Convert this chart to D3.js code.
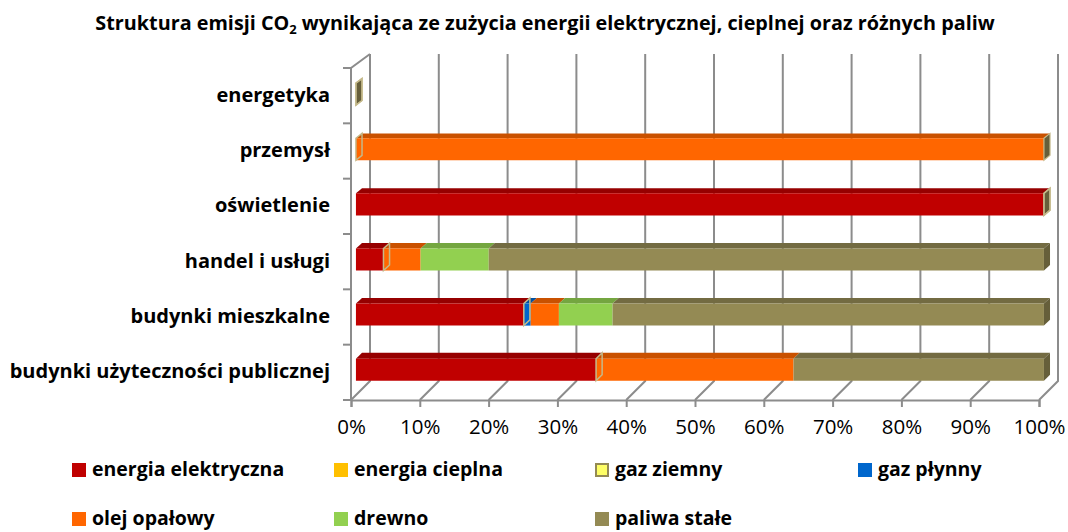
<!DOCTYPE html>
<html>
<head>
<meta charset="utf-8">
<script src="https://cdn.jsdelivr.net/npm/d3@7"></script>
<style>
  body { margin: 0; background: #fff; }
  text { font-family: "Open Sans", "Liberation Sans", sans-serif; fill: #000; }
</style>
</head>
<body>
<script>
// categories, top to bottom
var categories = ["energetyka", "przemysł", "oświetlenie", "handel i usługi",
                  "budynki mieszkalne", "budynki użyteczności publicznej"];

var seriesNames = ["energia elektryczna", "energia cieplna", "gaz ziemny", "gaz płynny",
                   "olej opałowy", "drewno", "paliwa stałe"];

// shares in %, same order as categories
var energiaElektryczna = [0, 0, 100, 4.0, 24.4, 34.9];
var energiaCieplna     = [0, 0, 0, 0, 0, 0];
var gazZiemny          = [0, 0, 0, 0, 0, 0];
var gazPlynny          = [0, 0, 0, 0, 1.0, 0];
var olejOpalowy        = [0, 100, 0, 5.4, 4.1, 28.7];
var drewno             = [0, 0, 0, 9.9, 7.8, 0];
var paliwaStale        = [0, 0, 0, 80.7, 62.7, 36.4];

var tickValues = [0, 10, 20, 30, 40, 50, 60, 70, 80, 90, 100];

var seriesValues = [energiaElektryczna, energiaCieplna, gazZiemny, gazPlynny,
                    olejOpalowy, drewno, paliwaStale];

var colors = {
  front: ["#C00000", "#FFC000", "#FFFF66", "#0066CC", "#FF6600", "#92D050", "#948A54"],
  top:   ["#960000", "#CC9A00", "#CCCC52", "#0050A0", "#C95100", "#74A640", "#736B42"],
  side:  ["#800000", "#A67C00", "#A6A642", "#004080", "#A34200", "#5E8634", "#665F3A"]
};
var outlineColor = "#C4B98A";

var width = 1068, height = 532;

var svg = d3.select("body").append("svg")
  .attr("width", width)
  .attr("height", height);

// front plane of the 3D box
var plot = {left: 351, right: 1039, top: 68, bottom: 400};
var depth = {dx: 19, dyTop: 14, dyBottom: 19};

var x = d3.scaleLinear().domain([0, 100]).range([plot.left, plot.right]);
var y = d3.scaleBand().domain(categories).range([plot.top, plot.bottom]);

// oblique projection: (x, y) on front plane pushed back by d in [0,1]
var project = function(px, py, d)
{
  var dy = depth.dyTop + (depth.dyBottom - depth.dyTop) * (py - plot.top) / (plot.bottom - plot.top);
  return [px + d * depth.dx, py - d * dy];
};

var poly = function(pts)
{
  return pts.map(function(p) { return p[0].toFixed(2) + "," + p[1].toFixed(2); }).join(" ");
};

var gridColor = "#8C8C8C";
var grid = svg.append("g")
  .attr("stroke", gridColor)
  .attr("stroke-width", 2)
  .attr("fill", "none");

// back wall gridlines + floor diagonals
tickValues.forEach(function(t)
{
  var bTop = project(x(t), plot.top, 1);
  var bBot = project(x(t), plot.bottom, 1);
  grid.append("polyline")
    .attr("points", poly([bTop, bBot, [x(t), plot.bottom]]));
});

// left wall
grid.append("polyline")
  .attr("points", poly([[plot.left, plot.bottom], [plot.left, plot.top], project(plot.left, plot.top, 1)]));

// category ticks at band boundaries
categories.concat([null]).forEach(function(c, i)
{
  var yy = plot.top + i * y.step();
  grid.append("line")
    .attr("x1", plot.left - 8).attr("x2", plot.left)
    .attr("y1", yy).attr("y2", yy);
});

// x axis along the front edge of the floor
var xAxis = d3.axisBottom(x)
  .tickValues(tickValues)
  .tickSize(7)
  .tickPadding(12)
  .tickFormat(function(d) { return d + "%"; });

var axisG = svg.append("g")
  .attr("transform", "translate(0," + plot.bottom + ")")
  .call(xAxis);
axisG.select(".domain").attr("stroke", gridColor).attr("stroke-width", 2);
axisG.selectAll(".tick line").attr("stroke", gridColor).attr("stroke-width", 2);
axisG.selectAll(".tick text")
  .style("font-family", "'Open Sans', sans-serif")
  .style("font-size", "20.5px")
  .attr("fill", "#000");

// category labels
svg.append("g").selectAll("text")
  .data(categories)
  .enter().append("text")
  .attr("x", 330)
  .attr("y", function(d) { return y(d) + y.bandwidth() / 2 + 6; })
  .attr("text-anchor", "end")
  .style("font-size", "20px")
  .style("font-weight", "bold")
  .text(function(d) { return d; });

// bars
var barD0 = 0.26, barD1 = 0.58;
var barTop = 0.34, barBottom = 0.74;

var bars = svg.append("g");

categories.forEach(function(cat, ci)
{
  var y0 = y(cat) + barTop * y.step();
  var y1 = y(cat) + barBottom * y.step();
  var g = bars.append("g");
  var acc = 0;
  var marks = [];

  seriesValues.forEach(function(vals, si)
  {
    var v = vals[ci];
    var xa = x(acc), xb = x(acc + v);
    if (v > 0)
    {
      g.append("polygon")
        .attr("points", poly([project(xa, y0, barD0), project(xb, y0, barD0), project(xb, y0, barD1), project(xa, y0, barD1)]))
        .attr("fill", colors.top[si]);
      g.append("polygon")
        .attr("points", poly([project(xa, y0, barD0), project(xb, y0, barD0), project(xb, y1, barD0), project(xa, y1, barD0)]))
        .attr("fill", colors.front[si]);
    }
    else if (si === 2)
    {
      // zero-width gaz ziemny keeps its outline
      marks.push(xa);
    }
    acc += v;
  });

  // end cap drawn with the last series colour
  var last = seriesValues.length - 1;
  var xe = x(acc);
  g.append("polygon")
    .attr("points", poly([project(xe, y0, barD0), project(xe, y0, barD1), project(xe, y1, barD1), project(xe, y1, barD0)]))
    .attr("fill", colors.side[last])
    .attr("stroke", acc === 100 && paliwaStale[ci] > 0 ? "none" : outlineColor)
    .attr("stroke-width", 1.2);

  marks.forEach(function(xm)
  {
    g.append("polygon")
      .attr("points", poly([project(xm, y0, barD0), project(xm, y0, barD1), project(xm, y1, barD1), project(xm, y1, barD0)]))
      .attr("fill", "none")
      .attr("stroke", outlineColor)
      .attr("stroke-width", 1.5);
  });
});

// title
var title = svg.append("text")
  .attr("x", width / 2 + 11)
  .attr("y", 30)
  .attr("text-anchor", "middle")
  .style("font-size", "19.8px")
  .style("font-weight", "bold");
title.append("tspan").text("Struktura emisji CO");
title.append("tspan").attr("dy", 4).style("font-size", "13px").text("2");
title.append("tspan").attr("dy", -4).text(" wynikająca ze zużycia energii elektrycznej, cieplnej oraz różnych paliw");

// legend
var legendX = [72, 334, 595, 858];
var legendY = [463, 512];

var legend = svg.append("g").selectAll("g")
  .data(seriesNames)
  .enter().append("g")
  .attr("transform", function(d, i)
  {
    return "translate(" + legendX[i % 4] + "," + legendY[Math.floor(i / 4)] + ")";
  });

legend.append("rect")
  .attr("x", function(d, i) { return i === 2 ? 1 : 0; })
  .attr("y", function(d, i) { return i === 2 ? 1 : 0; })
  .attr("width", function(d, i) { return i === 2 ? 12 : 14; })
  .attr("height", function(d, i) { return i === 2 ? 12 : 14; })
  .attr("fill", function(d, i) { return colors.front[i]; })
  .attr("stroke", function(d, i) { return i === 2 ? "#948A54" : "none"; })
  .attr("stroke-width", 2);

legend.append("text")
  .attr("x", 20)
  .attr("y", 13)
  .style("font-size", "19.5px")
  .style("font-weight", "bold")
  .text(function(d) { return d; });
</script>
</body>
</html>
